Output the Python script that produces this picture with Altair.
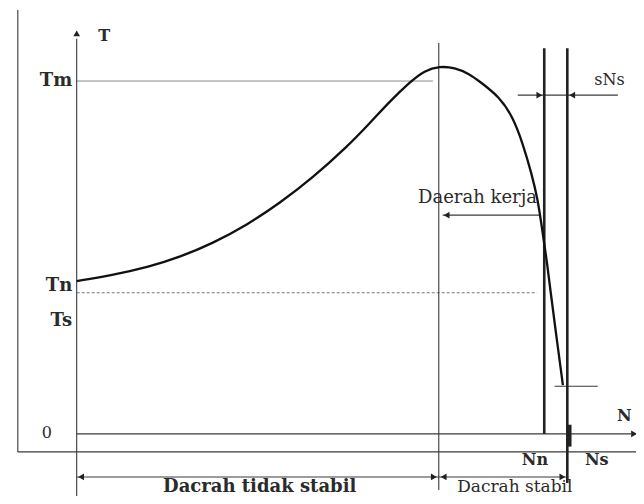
import altair as alt
import pandas as pd

# ---- torque-speed curve (schematic units: N 0..100 = 0..Ns, T 0..100 = 0..Tm) ----
curve_N = [0, 6.7, 14.9, 21.0, 27.7, 34.7, 41.4, 48.1, 55.0, 59.7, 63.8, 67.9, 70.9,
           74.0, 77.0, 80.1, 82.1, 86.2, 88.9, 90.9, 92.7, 94.0, 94.8, 95.8, 96.6,
           97.6, 99.1]
curve_T = [43.3, 44.8, 47.4, 50.1, 54.0, 59.2, 65.4, 72.6, 81.2, 88.0, 94.2, 99.7, 103.0,
           104.2, 103.8, 102.0, 99.9, 95.5, 89.8, 82.4, 73.9, 66.3, 58.6, 49.3, 40.2,
           29.5, 13.8]

# key levels
N_peak = 73.8
N_n = 95.3
N_s = 100.0
T_m = 100.0
T_n = 40.0
T_low = 13.5

# thin dark segments: x, x2, y, y2
thin_x = [0, -12.0, -12.0, 0, N_peak, 89.9, 74.6, 0, 97.4]
thin_x2 = [0, -12.0, 114.0, 113.0, N_peak, 110.3, 94.4, 100.0, 106.2]
thin_y = [-17.8, 120.1, -5.1, 0, 110.8, 96.0, 62.0, -12.2, T_low]
thin_y2 = [112.0, -5.1, -5.1, 0, -15.9, 96.0, 62.0, -12.2, T_low]

# thick verticals (Nn, Ns)
thick_x = [N_n, N_s]
thick_y = [109.3, 109.3]
thick_y2 = [0, -13.9]

# arrowheads
arrow_x = [0, 113.6, 94.3, 101.0, 75.4, 0.9, 72.8, 74.8, 99.0]
arrow_y = [113.5, 0, 96.0, 96.0, 62.0, -12.2, -12.2, -12.2, -12.2]
arrow_shape = ["triangle-up", "triangle-right", "triangle-right", "triangle-left",
               "triangle-left", "triangle-left", "triangle-right", "triangle-left",
               "triangle-right"]

# labels
lab_right_text = ["Tm", "Tn", "Ts"]
lab_right_x = [-0.9, -0.9, -0.9]
lab_right_y = [100.0, 42.0, 32.0]

lab_bold_text = ["T", "N", "Nn", "Ns"]
lab_bold_x = [5.6, 111.6, 93.4, 106.0]
lab_bold_y = [112.8, 5.0, -7.4, -7.4]

lab_plain_text = ["0", "sNs"]
lab_plain_x = [-6.1, 108.6]
lab_plain_y = [0.3, 100.3]

region_bold_text = ["Dacrah tidak stabil"]
region_bold_x = [37.3]
region_bold_y = [-17.6]

region_plain_text = ["Dacrah  stabil"]
region_plain_x = [89.3]
region_plain_y = [-17.6]

kerja_text = ["Daerah  kerja"]
kerja_x = [81.7]
kerja_y = [66.9]

xs = alt.Scale(domain=[-14, 114], nice=False, zero=False)
ys = alt.Scale(domain=[-17.6, 120.7], nice=False, zero=False)
X = lambda f: alt.X(f, type="quantitative", scale=xs, axis=None)
Y = lambda f: alt.Y(f, type="quantitative", scale=ys, axis=None)

curve_df = pd.DataFrame({"N": curve_N, "T": curve_T})
thin_df = pd.DataFrame({"x": thin_x, "x2": thin_x2, "y": thin_y, "y2": thin_y2})
thick_df = pd.DataFrame({"x": thick_x, "y": thick_y, "y2": thick_y2})
tm_df = pd.DataFrame({"x": [0], "x2": [72.6], "y": [T_m]})
tn_df = pd.DataFrame({"x": [0], "x2": [93.8], "y": [T_n]})
arrow_df = pd.DataFrame({"x": arrow_x, "y": arrow_y, "s": arrow_shape})
mark_df = pd.DataFrame({"x": [100.4], "y": [2.6], "y2": [-3.6]})

FONT = "DejaVu Serif"
TXT = "#2a2a2a"


def text_layer(texts, xv, yv, size, weight="normal", align="center", baseline="middle"):
    df = pd.DataFrame({"t": texts, "x": xv, "y": yv})
    return alt.Chart(df).mark_text(align=align, baseline=baseline, font=FONT,
                                   fontSize=size, fontWeight=weight, color=TXT).encode(
        x=X("x"), y=Y("y"), text="t")


thin = alt.Chart(thin_df).mark_rule(color="#3a3a3a", strokeWidth=1.1).encode(
    x=X("x"), x2="x2", y=Y("y"), y2="y2")
thick = alt.Chart(thick_df).mark_rule(color="#222", strokeWidth=2.6).encode(
    x=X("x"), y=Y("y"), y2="y2")
tm = alt.Chart(tm_df).mark_rule(color="#8a8a8a", strokeWidth=1).encode(
    x=X("x"), x2="x2", y=Y("y"))
tn = alt.Chart(tn_df).mark_rule(color="#777", strokeWidth=1, strokeDash=[3, 2]).encode(
    x=X("x"), x2="x2", y=Y("y"))
curve = alt.Chart(curve_df).mark_line(color="#111", strokeWidth=2.3,
                                      interpolate="basis").encode(
    x=X("N"), y=Y("T"), order=alt.Order("N:Q"))
arrows = alt.Chart(arrow_df).mark_point(filled=True, color="#222", size=45, opacity=1).encode(
    x=X("x"), y=Y("y"), shape=alt.Shape("s:N", scale=None))
bold_mark = alt.Chart(mark_df).mark_rule(color="#222", strokeWidth=4.5).encode(
    x=X("x"), y=Y("y"), y2="y2")

lab_r = text_layer(lab_right_text, lab_right_x, lab_right_y, 18, "bold", align="right")
lab_b = text_layer(lab_bold_text, lab_bold_x, lab_bold_y, 16, "bold")
lab_p = text_layer(lab_plain_text, lab_plain_x, lab_plain_y, 16)
reg_b = text_layer(region_bold_text, region_bold_x, region_bold_y, 18, "bold",
                   baseline="bottom")
reg_p = text_layer(region_plain_text, region_plain_x, region_plain_y, 17,
                   baseline="bottom")
kerja = text_layer(kerja_text, kerja_x, kerja_y, 18)

chart = alt.layer(tm, tn, thin, thick, bold_mark, curve, arrows,
                  lab_r, lab_b, lab_p, reg_b, reg_p, kerja).properties(
    width=628, height=488, padding=0, autosize=alt.AutoSizeParams(type="none"),
    background="white"
).configure_view(stroke=None)

chart.save("out.html", embed_options={"renderer": "svg", "actions": False})
